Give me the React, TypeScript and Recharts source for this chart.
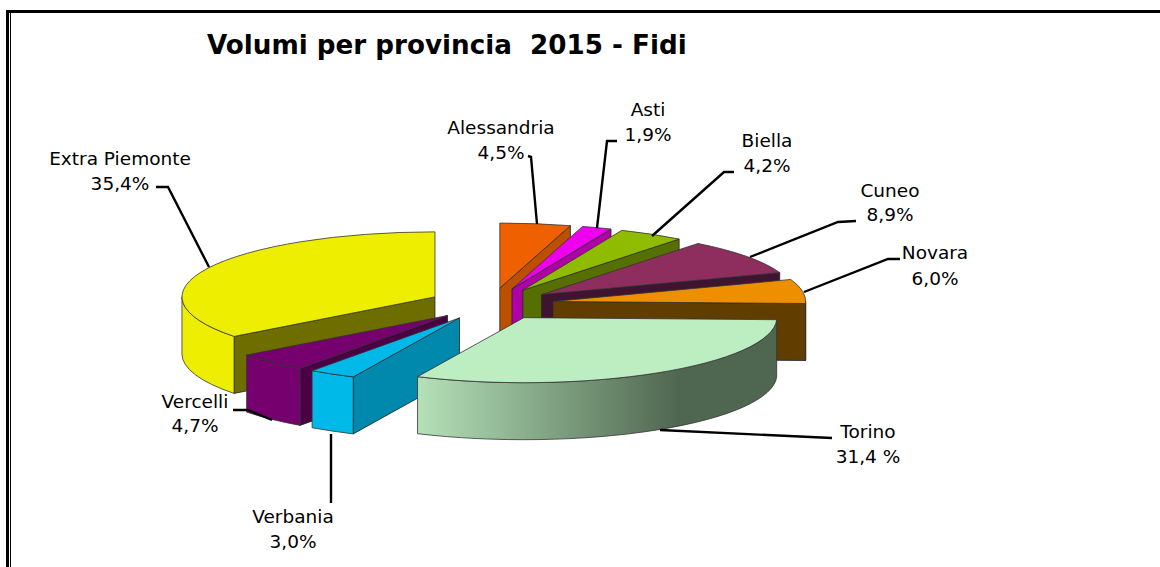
import { PieChart, Pie } from 'recharts';

// values as printed on the chart
const backSlices = ['Extra Piemonte', 'Alessandria', 'Asti', 'Biella', 'Cuneo', 'Novara'];
const backValues = [35.4, 4.5, 1.9, 4.2, 8.9, 6.0];
const backText = ['35,4%', '4,5%', '1,9%', '4,2%', '8,9%', '6,0%'];
// drawn anticlockwise so Torino ends up painted on top
const frontSlices = ['Vercelli', 'Verbania', 'Torino'];
const frontValues = [4.7, 3.0, 31.4];
const frontText = ['4,7%', '3,0%', '31,4 %'];

const topColors: Record<string, string> = {
  Alessandria: '#ee6000',
  Asti: '#ee00ee',
  Biella: '#8fbc00',
  Cuneo: '#8e2e5e',
  Novara: '#ee8f00',
  Torino: '#bdeec1',
  Verbania: '#00b9e8',
  Vercelli: '#77006f',
  'Extra Piemonte': '#eeee00',
};
const sideColors: Record<string, string> = {
  Alessandria: '#bc4f00',
  Asti: '#b000a8',
  Biella: '#557000',
  Cuneo: '#3f1430',
  Novara: '#623d00',
  Torino: '#4f6650',
  Verbania: '#0088ad',
  Vercelli: '#4b0046',
  'Extra Piemonte': '#6e6e00',
};

// label placement: text centre, two baselines, leader line
const labelSpots: Record<string, { x: number; y: number[]; line: string }> = {
  Alessandria: { x: 501, y: [134, 159], line: '528,156 531,157 537,224' },
  Asti: { x: 648, y: [116, 141], line: '617,141 607,141 597,228' },
  Biella: { x: 767, y: [147, 172], line: '734,172 724,172 652,236' },
  Cuneo: { x: 890, y: [197, 221], line: '856,221 838,222 750,257' },
  Novara: { x: 935, y: [259, 285], line: '900,259 888,259 804,292' },
  Torino: { x: 868, y: [438, 463], line: '832,438 660,430' },
  Verbania: { x: 293, y: [523, 548], line: '331,434 331,503' },
  Vercelli: { x: 195, y: [408, 432], line: '233,410 248,410 272,420' },
  'Extra Piemonte': { x: 120, y: [165, 190], line: '156,187 168,187 209,267' },
};

const SQUASH = 0.257;
const EXPLODE = 62.5;
const DEPTH = 57;

const rad = (d: number) => (d * Math.PI) / 180;
const sum = (a: number[]) => a.reduce((t, v) => t + v, 0);
const total = sum(backValues) + sum(frontValues);
const seamAngle = 90 + (360 * backValues[0]) / total;
const backEnd = seamAngle - (360 * sum(backValues)) / total;
const frontEnd = seamAngle + (360 * sum(frontValues)) / total;

const backData = backSlices.map((name, i) => ({ name, value: backValues[i], text: backText[i] }));
const frontData = frontSlices.map((name, i) => ({ name, value: frontValues[i], text: frontText[i] }));

// flattened, extruded and pulled-out version of the sector recharts computed
function Slice3D(props: any) {
  const { cx, cy, outerRadius: r, startAngle, endAngle, name } = props;
  const lo = Math.min(startAngle, endAngle);
  const hi = Math.max(startAngle, endAngle);
  const mid = rad((lo + hi) / 2);
  const ax = cx + EXPLODE * Math.cos(mid);
  const ay = cy - EXPLODE * SQUASH * Math.sin(mid);
  const rim = (deg: number, drop = 0) =>
    `${ax + r * Math.cos(rad(deg))},${ay - r * SQUASH * Math.sin(rad(deg)) + drop}`;
  const rx = r;
  const ry = r * SQUASH;

  const top = topColors[name];
  const side = sideColors[name];
  const outerWall = name === 'Torino' ? 'url(#torinoWall)' : top;

  const walls: React.ReactNode[] = [];
  const addWall = (deg: number) =>
    walls.push(
      <path
        key={deg}
        d={`M${ax},${ay} L${rim(deg)} L${rim(deg, DEPTH)} L${ax},${ay + DEPTH} Z`}
        fill={side}
        stroke="#222"
        strokeWidth={0.8}
      />,
    );
  if (Math.cos(rad(lo)) > 0.001) addWall(lo);
  if (Math.cos(rad(hi)) < -0.001) addWall(hi);

  // the part of the rim that faces the viewer
  const fronts: React.ReactNode[] = [];
  [[-180, 0], [180, 360]].forEach(([a, b]) => {
    const u = Math.max(a, lo);
    const v = Math.min(b, hi);
    if (v - u < 0.01) return;
    const large = v - u > 180 ? 1 : 0;
    fronts.push(
      <path
        key={a}
        d={`M${rim(u)} A${rx} ${ry} 0 ${large} 0 ${rim(v)} L${rim(v, DEPTH)} A${rx} ${ry} 0 ${large} 1 ${rim(u, DEPTH)} Z`}
        fill={outerWall}
        stroke="#333"
        strokeWidth={0.8}
      />,
    );
  });

  const large = hi - lo > 180 ? 1 : 0;
  return (
    <g>
      {name === 'Torino' && (
        <defs>
          <linearGradient id="torinoWall" gradientUnits="userSpaceOnUse" x1={420} y1={0} x2={680} y2={0}>
            <stop offset="0" stopColor="#b3e0b6" />
            <stop offset="1" stopColor="#4f6650" />
          </linearGradient>
        </defs>
      )}
      {walls}
      {fronts}
      <path
        d={`M${ax},${ay} L${rim(hi)} A${rx} ${ry} 0 ${large} 1 ${rim(lo)} Z`}
        fill={top}
        stroke="#333"
        strokeWidth={0.8}
      />
    </g>
  );
}

function SliceLabel(props: any) {
  const name = props.name ?? props.payload?.name;
  const spot = labelSpots[name];
  const text = props.text ?? props.payload?.text;
  return (
    <g>
      <polyline points={spot.line} fill="none" stroke="#000" strokeWidth={2.4} />
      <text x={spot.x} y={spot.y[0]} textAnchor="middle" fontFamily="DejaVu Sans" fontSize={18.5} fill="#000">
        {name}
      </text>
      <text x={spot.x} y={spot.y[1]} textAnchor="middle" fontFamily="DejaVu Sans" fontSize={18.5} fill="#000">
        {text}
      </text>
    </g>
  );
}

const bar = (left: number, top: number, width: number, height: number): React.CSSProperties => ({
  position: 'absolute',
  left,
  top,
  width,
  height,
  background: '#000',
});

export default function App() {
  return (
    <div style={{ position: 'absolute', left: 0, top: 0, width: 1160, height: 567, background: '#fff', overflow: 'hidden' }}>
      <div style={bar(6, 10, 1154, 3)} />
      <div style={bar(6, 10, 3, 557)} />
      <div style={bar(10, 13, 1, 554)} />
      <div
        style={{
          position: 'absolute',
          left: 207,
          top: 25,
          fontFamily: 'DejaVu Sans',
          fontWeight: 'bold',
          fontSize: 26.2,
          lineHeight: '40px',
          whiteSpace: 'pre',
          color: '#000',
        }}
      >
        Volumi per provincia  2015 - Fidi
      </div>
      <div style={{ position: 'absolute', left: 0, top: 0 }}>
        <PieChart width={1160} height={567} margin={{ top: 0, right: 0, bottom: 0, left: 0 }}>
          <Pie
            data={backData}
            dataKey="value"
            nameKey="name"
            cx={491}
            cy={304}
            outerRadius={253}
            startAngle={seamAngle}
            endAngle={backEnd}
            shape={Slice3D}
            label={SliceLabel}
            labelLine={false}
            isAnimationActive={false}
          />
          <Pie
            data={frontData}
            dataKey="value"
            nameKey="name"
            cx={491}
            cy={304}
            outerRadius={253}
            startAngle={seamAngle}
            endAngle={frontEnd}
            shape={Slice3D}
            label={SliceLabel}
            labelLine={false}
            isAnimationActive={false}
          />
        </PieChart>
      </div>
    </div>
  );
}
